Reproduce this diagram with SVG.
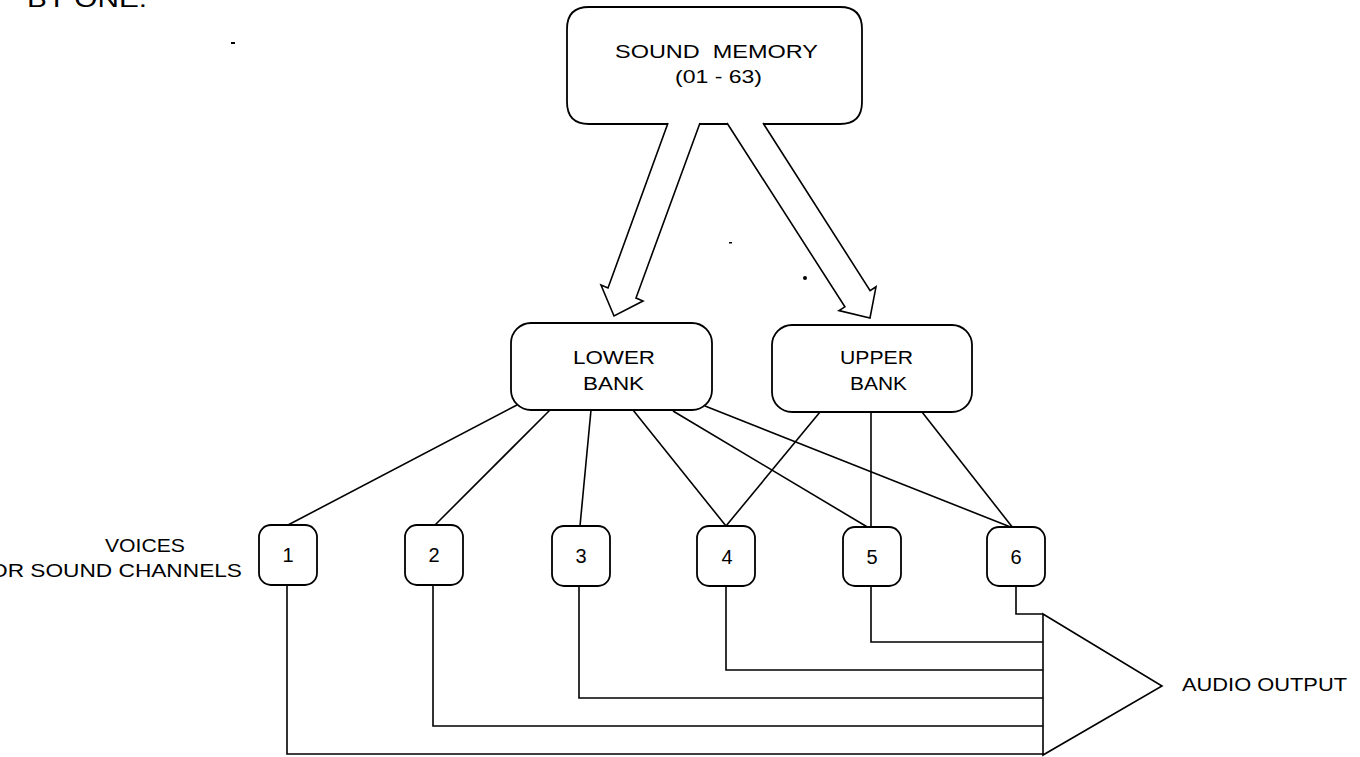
<svg xmlns="http://www.w3.org/2000/svg" width="1360" height="757" viewBox="0 0 1360 757">
<style>
  .box { fill: #fff; stroke: #000; stroke-width: 1.8; }
  .ln { fill: none; stroke: #000; stroke-width: 1.6; stroke-linejoin: miter; }
  .t { font-family: "Liberation Sans", Arial, sans-serif; font-size: 19px; fill: #000; }
  .num { font-size: 20px; }
</style>
<rect width="1360" height="757" fill="#fff"/>

<text class="t" x="27" y="7" style="font-size:24px" textLength="120" lengthAdjust="spacingAndGlyphs">BY ONE.</text>

<g id="marks" fill="#000">
  <rect x="231" y="42" width="4" height="2"/>
  <rect x="729" y="242" width="3" height="1.5"/>
  <circle cx="805" cy="278" r="2"/>
</g>

<g id="sound-memory">
  <path class="ln" d="M668,124 H589 Q567,124 567,102 V29 Q567,7 589,7 H840 Q862,7 862,29 V102 Q862,124 840,124 H763 M700,124 H727" style="stroke-width:1.8"/>
  <text class="t" x="615" y="58" textLength="203" lengthAdjust="spacingAndGlyphs" style="white-space:pre">SOUND  MEMORY</text>
  <text class="t" x="675" y="83" textLength="87" lengthAdjust="spacingAndGlyphs">(01 - 63)</text>
</g>

<g id="arrows">
  <path d="M668,123 L608,288 L601,285 L614,316 L643,301 L636,298 L700,123" fill="#fff" stroke="#000" stroke-width="1.6" stroke-linejoin="miter"/>
  <path d="M727,123 L844.9,306.8 L839,310.6 L870,318 L876,286.8 L870.1,290.6 L763,123" fill="#fff" stroke="#000" stroke-width="1.6" stroke-linejoin="miter"/>
</g>

<g id="connectors">
  <line class="ln" x1="517" y1="405" x2="288" y2="525"/>
  <line class="ln" x1="550" y1="410" x2="435" y2="525"/>
  <line class="ln" x1="591" y1="410" x2="580" y2="526"/>
  <line class="ln" x1="633" y1="410" x2="726" y2="526"/>
  <line class="ln" x1="673" y1="411" x2="869" y2="528"/>
  <line class="ln" x1="705" y1="406" x2="1013" y2="528"/>
  <line class="ln" x1="820" y1="412" x2="726" y2="526"/>
  <line class="ln" x1="871" y1="412" x2="871" y2="528"/>
  <line class="ln" x1="922" y1="412" x2="1013" y2="528"/>
  <polyline class="ln" points="287,585 287,754 1043,754"/>
  <polyline class="ln" points="433,585 433,726 1043,726"/>
  <polyline class="ln" points="579,585 579,698 1043,698"/>
  <polyline class="ln" points="726,585 726,670 1043,670"/>
  <polyline class="ln" points="871,586 871,642 1043,642"/>
  <polyline class="ln" points="1016,586 1016,614 1043,614"/>
</g>

<g id="lower-bank">
  <rect class="box" x="511" y="323" width="201" height="87" rx="20"/>
  <text class="t" x="573" y="364" textLength="82" lengthAdjust="spacingAndGlyphs">LOWER</text>
  <text class="t" x="583" y="390" textLength="61" lengthAdjust="spacingAndGlyphs">BANK</text>
</g>

<g id="upper-bank">
  <rect class="box" x="772" y="325" width="200" height="87" rx="20"/>
  <text class="t" x="840" y="364" textLength="73" lengthAdjust="spacingAndGlyphs">UPPER</text>
  <text class="t" x="850" y="390" textLength="57" lengthAdjust="spacingAndGlyphs">BANK</text>
</g>

<g id="voices-label">
  <text class="t" x="105" y="552" textLength="80" lengthAdjust="spacingAndGlyphs">VOICES</text>
  <text class="t" x="-10" y="577" textLength="252" lengthAdjust="spacingAndGlyphs">OR SOUND CHANNELS</text>
</g>

<g id="voice-1"><rect class="box" x="259" y="525" width="58" height="60" rx="12"/><text class="t num" x="288" y="562" text-anchor="middle">1</text></g>
<g id="voice-2"><rect class="box" x="405" y="525" width="58" height="60" rx="12"/><text class="t num" x="434" y="562" text-anchor="middle">2</text></g>
<g id="voice-3"><rect class="box" x="552" y="526" width="58" height="60" rx="12"/><text class="t num" x="581" y="563" text-anchor="middle">3</text></g>
<g id="voice-4"><rect class="box" x="697" y="526" width="58" height="60" rx="12"/><text class="t num" x="727" y="564" text-anchor="middle">4</text></g>
<g id="voice-5"><rect class="box" x="843" y="527" width="58" height="59" rx="12"/><text class="t num" x="872" y="564" text-anchor="middle">5</text></g>
<g id="voice-6"><rect class="box" x="987" y="527" width="58" height="59" rx="12"/><text class="t num" x="1016" y="564" text-anchor="middle">6</text></g>

<g id="audio-output">
  <polygon class="ln" points="1043,614 1162,686 1043,755"/>
  <text class="t" x="1182" y="691" textLength="165" lengthAdjust="spacingAndGlyphs">AUDIO OUTPUT</text>
</g>
</svg>
